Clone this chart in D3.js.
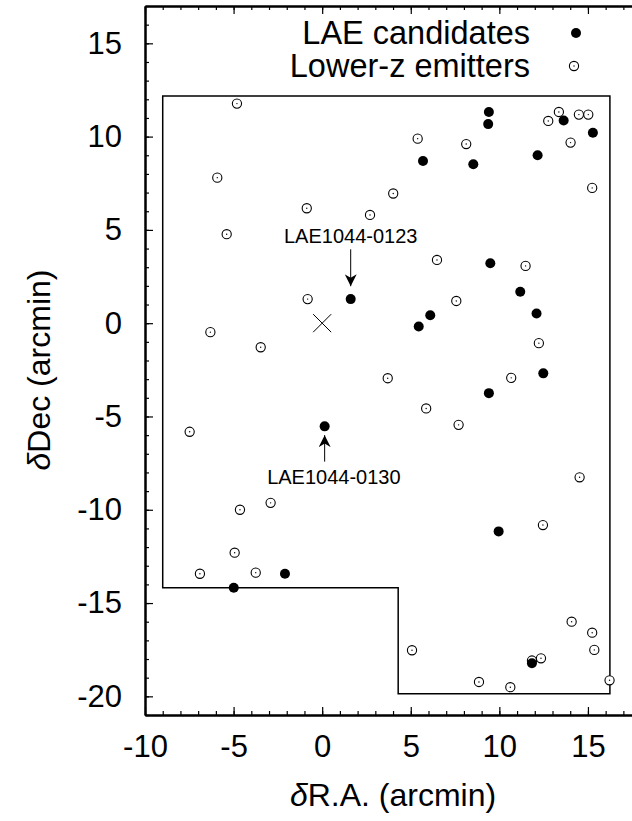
<!DOCTYPE html>
<html>
<head>
<meta charset="utf-8">
<script src="https://cdn.jsdelivr.net/npm/d3@7"></script>
<style>
  body { margin: 0; background: #fff; }
  svg { display: block; font-family: "Liberation Sans", Arial, sans-serif; }
</style>
</head>
<body>
<div id="chart"></div>
<script>
// LAE candidates (filled)  [dRA, dDec] in arcmin
const laeCandidates = [
    [9.41, 11.32], [9.37, 10.67], [5.69, 8.69], [8.53, 8.52], [12.16, 9.00],
    [13.63, 10.86], [15.28, 10.21], [9.49, 3.21], [11.18, 1.68], [1.61, 1.29],
    [6.10, 0.43], [5.45, -0.18], [12.10, 0.52], [12.48, -2.69], [9.41, -3.75],
    [0.14, -5.53], [9.96, -11.16], [-2.10, -13.43], [-4.99, -14.18], [11.84, -18.23]
];
// lower-z emitters (open with dot)
const lowerZ = [
    [-4.81, 11.77], [-5.92, 7.80], [-5.39, 4.77], [-0.87, 6.16], [2.70, 5.80],
    [4.01, 6.95], [5.39, 9.89], [8.13, 9.60], [12.76, 10.84], [13.36, 11.32],
    [14.49, 11.18], [15.02, 11.18], [14.02, 9.68], [15.24, 7.25], [6.48, 3.39],
    [11.48, 3.07], [-0.82, 1.29], [-6.31, -0.48], [-3.47, -1.29], [3.70, -2.95],
    [7.57, 1.19], [12.23, -1.07], [10.67, -2.93], [5.87, -4.57], [7.70, -5.45],
    [-7.48, -5.82], [14.53, -8.26], [-2.91, -9.63], [-4.64, -10.0], [-4.94, -12.30],
    [-6.90, -13.43], [-3.75, -13.37], [12.46, -10.82], [14.08, -16.0], [15.24, -16.59],
    [15.36, -17.51], [5.07, -17.53], [11.84, -18.08], [12.35, -17.96], [8.85, -19.23],
    [10.62, -19.51], [16.22, -19.14]
];
// survey field outline
const surveyField = [
    [-9, 12.17], [16.24, 12.17], [16.24, -19.86], [4.29, -19.86], [4.29, -14.18], [-9, -14.18]
];
const fieldCenter = [0, 0];
// labelled objects: name, label x/y, arrow tail y, arrow tip y
const labelled = [
    { name: "LAE1044-0123", x: 1.61, lx: 1.61, ly: 4.28, y0: 3.96, y1: 1.98 },
    { name: "LAE1044-0130", x: 0.14, lx: 0.66, ly: -8.62, y0: -7.42, y1: -6.0 }
];
const xTicks = [-10, -5, 0, 5, 10, 15];
const yTicks = [-20, -15, -10, -5, 0, 5, 10, 15];
const legendItems = ["LAE candidates", "Lower-z emitters"];

const width = 632, height = 821;
const svg = d3.select("#chart").append("svg")
    .attr("width", width)
    .attr("height", height);

const x = d3.scaleLinear().domain([-10, 17.6]).range([145, 634]);
const y = d3.scaleLinear().domain([-21, 17]).range([715, 6]);

svg.append("defs").append("marker")
    .attr("id", "arrow")
    .attr("viewBox", "0 -5 10 10")
    .attr("refX", 10)
    .attr("refY", 0)
    .attr("markerWidth", 12)
    .attr("markerHeight", 12)
    .attr("markerUnits", "userSpaceOnUse")
    .attr("orient", "auto")
    .append("path")
    .attr("d", "M0,-5L10,0L0,5L3,0Z")
    .attr("fill", "black");

// axes (ticks pointing inward)
const fmt = d => String(d);
function styleAxis(g) {
    g.select(".domain").attr("stroke-width", 2);
    g.selectAll(".tick line").attr("stroke-width", 1.2);
    g.selectAll("text").style("font-size", "31px").attr("fill", "black");
}
const minorX = d3.range(-10, 18, 1), minorY = d3.range(-21, 18, 1);

svg.append("g").attr("transform", `translate(0,${y(-21)})`)
    .call(d3.axisBottom(x).tickValues(minorX).tickSize(-4).tickFormat("").tickSizeOuter(0))
    .call(styleAxis);
svg.append("g").attr("transform", `translate(0,${y(-21)})`)
    .call(d3.axisBottom(x).tickValues(xTicks).tickSize(-8).tickPadding(20).tickFormat(fmt).tickSizeOuter(0))
    .call(styleAxis);
svg.append("g").attr("transform", `translate(0,${y(17)})`)
    .call(d3.axisTop(x).tickValues(minorX).tickSize(-4).tickFormat("").tickSizeOuter(0))
    .call(styleAxis);
svg.append("g").attr("transform", `translate(0,${y(17)})`)
    .call(d3.axisTop(x).tickValues(xTicks).tickSize(-8).tickFormat("").tickSizeOuter(0))
    .call(styleAxis);
svg.append("g").attr("transform", `translate(${x(-10)},0)`)
    .call(d3.axisLeft(y).tickValues(minorY).tickSize(-4).tickFormat("").tickSizeOuter(0))
    .call(styleAxis);
svg.append("g").attr("transform", `translate(${x(-10)},0)`)
    .call(d3.axisLeft(y).tickValues(yTicks).tickSize(-8).tickPadding(23).tickFormat(fmt).tickSizeOuter(0))
    .call(styleAxis);

// axis titles
const xt = svg.append("text")
    .attr("x", 393).attr("y", 806)
    .attr("text-anchor", "middle")
    .style("font-size", "32px");
xt.append("tspan").style("font-style", "italic").text("δ");
xt.append("tspan").text("R.A. (arcmin)");

const yt = svg.append("text")
    .attr("transform", "translate(50,370) rotate(-90)")
    .attr("text-anchor", "middle")
    .style("font-size", "32px");
yt.append("tspan").style("font-style", "italic").text("δ");
yt.append("tspan").text("Dec (arcmin)");

// survey field
svg.append("path")
    .attr("d", d3.line().x(d => x(d[0])).y(d => y(d[1]))(surveyField) + "Z")
    .attr("fill", "none")
    .attr("stroke", "black")
    .attr("stroke-width", 1.5);

// field centre
const cs = 9;
svg.append("path")
    .attr("d", `M${x(fieldCenter[0]) - cs},${y(fieldCenter[1]) - cs}L${x(fieldCenter[0]) + cs},${y(fieldCenter[1]) + cs}` +
        `M${x(fieldCenter[0]) - cs},${y(fieldCenter[1]) + cs}L${x(fieldCenter[0]) + cs},${y(fieldCenter[1]) - cs}`)
    .attr("stroke", "black")
    .attr("stroke-width", 1);

// lower-z emitters
const lz = svg.append("g");
lz.selectAll("circle.ring").data(lowerZ).enter().append("circle")
    .attr("cx", d => x(d[0])).attr("cy", d => y(d[1]))
    .attr("r", 4.6)
    .attr("fill", "white").attr("stroke", "black").attr("stroke-width", 1.1);
lz.selectAll("circle.dot").data(lowerZ).enter().append("circle")
    .attr("cx", d => x(d[0])).attr("cy", d => y(d[1]))
    .attr("r", 0.7).attr("fill", "black");

// LAE candidates
svg.append("g").selectAll("circle").data(laeCandidates).enter().append("circle")
    .attr("cx", d => x(d[0])).attr("cy", d => y(d[1]))
    .attr("r", 5)
    .attr("fill", "black");

// labelled objects
labelled.forEach(o => {
    svg.append("line")
        .attr("x1", x(o.x)).attr("y1", y(o.y0))
        .attr("x2", x(o.x)).attr("y2", y(o.y1))
        .attr("stroke", "black").attr("stroke-width", 1)
        .attr("marker-end", "url(#arrow)");
    svg.append("text")
        .attr("x", x(o.lx)).attr("y", y(o.ly))
        .attr("text-anchor", "middle")
        .style("font-size", "20px")
        .text(o.name);
});

// legend
const legend = svg.append("g");
legendItems.forEach((name, i) => {
    const ly = 33 + i * 33;
    legend.append("text")
        .attr("x", 530).attr("y", ly + 11)
        .attr("text-anchor", "end")
        .style("font-size", "32.5px")
        .text(name);
    if (i === 0) {
        legend.append("circle").attr("cx", 576).attr("cy", ly).attr("r", 5).attr("fill", "black");
    } else {
        legend.append("circle").attr("cx", 574).attr("cy", ly).attr("r", 4.6)
            .attr("fill", "white").attr("stroke", "black").attr("stroke-width", 1.1);
        legend.append("circle").attr("cx", 574).attr("cy", ly).attr("r", 0.7).attr("fill", "black");
    }
});
</script>
</body>
</html>
